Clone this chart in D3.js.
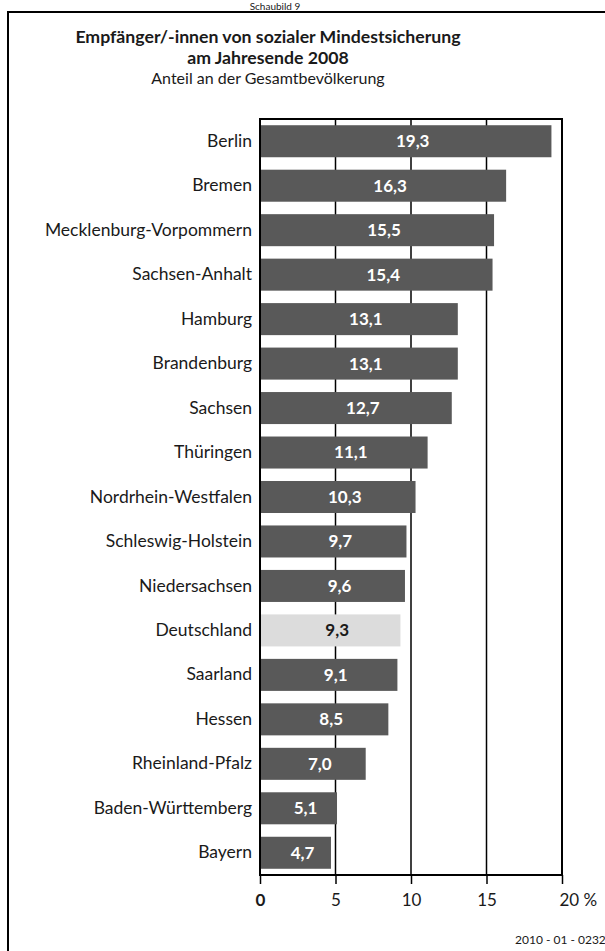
<!DOCTYPE html>
<html><head><meta charset="utf-8">
<script src="https://cdn.jsdelivr.net/npm/d3@7"></script>
<style>
body{margin:0;background:#fff;}
svg{display:block;}
text{font-family:Lato,"Open Sans",sans-serif;fill:#1a1a1a;}
</style></head>
<body>
<svg id="chart" width="605" height="951"></svg>
<script>
const categories = ["Berlin","Bremen","Mecklenburg-Vorpommern","Sachsen-Anhalt","Hamburg","Brandenburg","Sachsen","Thüringen","Nordrhein-Westfalen","Schleswig-Holstein","Niedersachsen","Deutschland","Saarland","Hessen","Rheinland-Pfalz","Baden-Württemberg","Bayern"];
const values = [19.3,16.3,15.5,15.4,13.1,13.1,12.7,11.1,10.3,9.7,9.6,9.3,9.1,8.5,7.0,5.1,4.7];
const highlight = ["Deutschland"];
const xTicks = [0,5,10,15,20];
const titleLines = ["Empfänger/-innen von sozialer Mindestsicherung","am Jahresende 2008"];
const subtitle = "Anteil an der Gesamtbevölkerung";
const topLabel = "Schaubild 9";
const footer = "2010 - 01 - 0232";

const FONT = 'Lato,"Open Sans",sans-serif';
const svg = d3.select("#chart");
const pLeft = 260, pRight = 562, pTop = 119, pBottom = 875;

// outer frame
svg.append("rect").attr("x",8).attr("y",12).attr("width",640).attr("height",1000)
  .attr("fill","none").attr("stroke","#000").attr("stroke-width",2);

svg.append("text").attr("x",275).attr("y",10).attr("text-anchor","middle")
  .style("font-size","10px").text(topLabel);

titleLines.forEach((t,i)=>{
  svg.append("text").attr("x",268).attr("y",43+i*21).attr("text-anchor","middle")
    .style("font-size","17.7px").style("font-weight","bold").text(t);
});
svg.append("text").attr("x",268).attr("y",84).attr("text-anchor","middle")
  .style("font-size","16px").text(subtitle);

const x = d3.scaleLinear().domain([0,20]).range([pLeft,pRight]);
const y = d3.scaleBand().domain(categories).range([pTop,pBottom]).paddingInner(0.28).paddingOuter(0.14);

// gridlines
svg.append("g").selectAll("line").data(xTicks.slice(1,-1)).join("line")
  .attr("x1",d=>x(d)).attr("x2",d=>x(d)).attr("y1",pTop).attr("y2",pBottom)
  .attr("stroke","#000").attr("stroke-width",1.5);

// frame of plot
svg.append("rect").attr("x",pLeft).attr("y",pTop).attr("width",pRight-pLeft).attr("height",pBottom-pTop)
  .attr("fill","none").attr("stroke","#000").attr("stroke-width",2);

// bars
svg.append("g").selectAll("rect").data(categories).join("rect")
  .attr("x",x(0)+1).attr("y",d=>y(d))
  .attr("width",(d,i)=>x(values[i])-x(0)-1).attr("height",y.bandwidth())
  .attr("fill",d=>highlight.includes(d)?"#dcdcdc":"#595959");

// value labels
svg.append("g").selectAll("text").data(categories).join("text")
  .attr("x",(d,i)=>(x(0)+x(values[i]))/2+7).attr("y",d=>y(d)+y.bandwidth()/2)
  .attr("dy","0.35em").attr("text-anchor","middle")
  .style("font-size","17px").style("font-weight","bold")
  .style("fill",d=>highlight.includes(d)?"#1a1a1a":"#fff")
  .text((d,i)=>d3.format(".1f")(values[i]).replace(".",","));

// category labels
const yAxis = d3.axisLeft(y).tickSize(0).tickPadding(8);
const ya = svg.append("g").attr("transform",`translate(${pLeft},0)`).call(yAxis);
ya.select(".domain").remove();
ya.selectAll("text").style("font-size","17.5px").style("fill","#1a1a1a").style("font-family",FONT);

// x axis
const xAxis = d3.axisBottom(x).tickValues(xTicks).tickSize(9).tickPadding(10)
  .tickFormat(d=> d===20 ? "20 %" : String(d));
const xa = svg.append("g").attr("transform",`translate(0,${pBottom})`).call(xAxis);
xa.select(".domain").remove();
xa.selectAll("line").attr("stroke","#000").attr("stroke-width",1.5);
xa.selectAll("text").style("font-size","17px").style("fill","#1a1a1a").style("font-family",FONT)
  .style("font-weight",d=>d===0?"bold":"normal");
xa.selectAll("text").filter(d=>d===20).attr("text-anchor","start").attr("x",-3);

svg.append("text").attr("x",515).attr("y",944).style("font-size","12px").text(footer);
</script>
</body></html>
